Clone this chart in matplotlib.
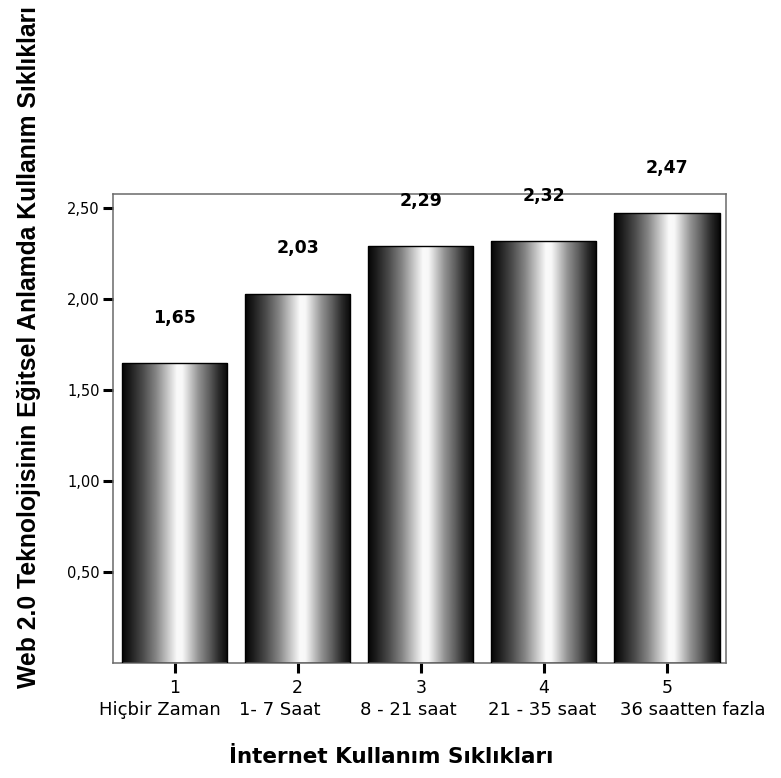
import numpy as np
import matplotlib
matplotlib.use("Agg")
import matplotlib.pyplot as plt
from matplotlib import font_manager as fm
from matplotlib.transforms import blended_transform_factory

# ---- data ----
tick_numbers = ["1", "2", "3", "4", "5"]
categories = ["Hiçbir Zaman", "1- 7 Saat", "8 - 21 saat", "21 - 35 saat", "36 saatten fazla"]
values = [1.65, 2.03, 2.29, 2.32, 2.47]
value_labels = ["1,65", "2,03", "2,29", "2,32", "2,47"]
y_ticks = [0.5, 1.0, 1.5, 2.0, 2.5]
y_tick_labels = ["0,50", "1,00", "1,50", "2,00", "2,50"]
y_title = "Web 2.0 Teknolojisinin Eğitsel Anlamda Kullanım Sıklıkları"
x_title = "İnternet Kullanım Sıklıkları"

# horizontal nudges of category labels (pixels)
cat_nudge_px = [-15, -18, -12, -2, 26]

fig = plt.figure(figsize=(7.81, 7.78), dpi=100)
fig.patch.set_facecolor("white")
W, H = 781, 778
ax = fig.add_axes([113 / W, (H - 663) / H, (726 - 113) / W, (663 - 194) / H])

x = np.arange(len(values))
bars = ax.bar(x, values, width=0.855, facecolor="none", edgecolor="black",
              linewidth=1.0, zorder=3)

# cylinder-like gradient
t_pts = [0.0, 0.08, 0.2, 0.32, 0.44, 0.52, 0.57, 0.63, 0.72, 0.82, 0.92, 1.0]
b_pts = [0.02, 0.12, 0.30, 0.52, 0.80, 0.98, 0.97, 0.82, 0.58, 0.38, 0.16, 0.03]
t = np.linspace(0, 1, 256)
grad = np.interp(t, t_pts, b_pts)[np.newaxis, :]
for b in bars:
    x0, w, h = b.get_x(), b.get_width(), b.get_height()
    im = ax.imshow(grad, extent=[x0, x0 + w, 0, h], aspect="auto", cmap="gray",
                   vmin=0, vmax=1, interpolation="bilinear", zorder=2)
    im.set_clip_path(b)

for b, lab in zip(bars, value_labels):
    ax.annotate(lab, (b.get_x() + b.get_width() / 2, b.get_height()),
                xytext=(0, 32.5), textcoords="offset points", ha="center",
                va="center", fontsize=12.5, fontweight="bold",
                family="DejaVu Sans", color="black")

ax.set_xlim(-0.5, 4.48)
ax.set_ylim(0, (663 - 194) / 182)

ax.set_yticks(y_ticks)
ax.set_yticklabels(y_tick_labels, fontsize=10.5, family="DejaVu Sans")
ax.set_xticks(x)
ax.set_xticklabels(tick_numbers, fontsize=12.5, family="DejaVu Sans")
ax.tick_params(axis="both", direction="out", length=7.5, width=2.2, color="black")
ax.tick_params(axis="y", pad=2)
ax.tick_params(axis="x", pad=4)

for s in ax.spines.values():
    s.set_color("#6a6a6a")
    s.set_linewidth(1.1)

trans = blended_transform_factory(ax.transData, ax.transAxes)
for i, (cat, nd) in enumerate(zip(categories, cat_nudge_px)):
    ax.annotate(cat, (x[i], 0), xycoords=trans,
                xytext=(nd * 0.72, -47 * 0.72), textcoords="offset points",
                ha="center", va="center", fontsize=13, family="DejaVu Sans",
                annotation_clip=False)

# narrow font for the vertical title if one is installed
names = {f.name for f in fm.fontManager.ttflist}
if "Liberation Sans Narrow" in names:
    ykw = dict(family="Liberation Sans Narrow", fontweight="bold")
else:
    ykw = dict(family="Liberation Sans", fontweight="bold")

ytxt = fig.text(29 / W, (H - 347) / H, y_title, rotation=90, ha="center",
                va="center", fontsize=20, **ykw)
fig.canvas.draw()
ext = ytxt.get_window_extent()
ytxt.set_fontsize(20 * 683.0 / ext.height)

fig.text(391 / W, (H - 757) / H, x_title, ha="center", va="center",
         fontsize=15.5, fontweight="bold", family="DejaVu Sans")

fig.savefig("out.png", dpi=100, facecolor="white")
